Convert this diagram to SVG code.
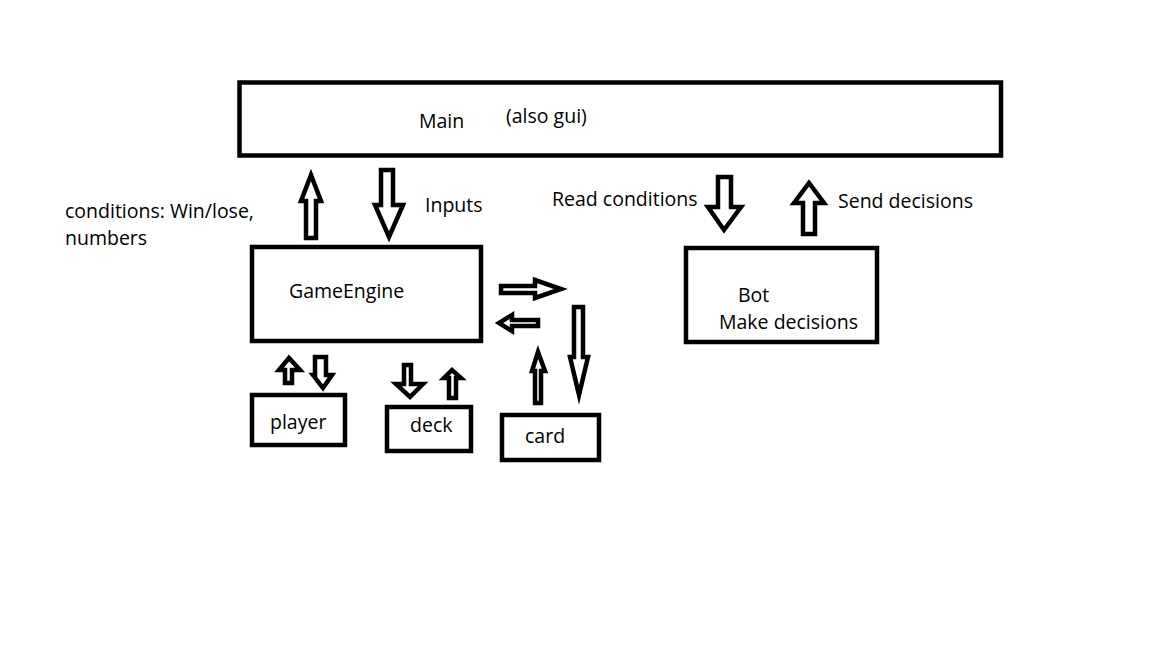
<svg xmlns="http://www.w3.org/2000/svg" width="1152" height="648" viewBox="0 0 1152 648">
<style>
.box{fill:#fff;stroke:#000;stroke-width:4.5}
.arr{fill:#fff;stroke:#000;stroke-width:4.5;stroke-linejoin:miter;stroke-miterlimit:10}
text{font-family:"Open Sans","Noto Sans",sans-serif;font-size:19.5px;fill:#000}
</style>
<rect width="1152" height="648" fill="#fff"/>
<g id="connectors">
<polygon class="arr" points="306,238 306,201 301,201 311,175 321,201 316,201 316,238"/>
<polygon class="arr" points="381,170 381,205 375,205 389,237 403,205 393,205 393,170"/>
<polygon class="arr" points="718,177 718,207 708,207 724,230 741,207 731,207 731,177"/>
<polygon class="arr" points="803,234 803,203 794,203 809,183 824,203 815,203 815,234"/>
<polygon class="arr" points="501,286 535,286 535,280 561,289 535,298 535,293 501,293"/>
<polygon class="arr" points="538,320 512,320 512,315 499,323 512,331 512,326 538,326"/>
<polygon class="arr" points="535,403 535,371 532,371 538,352 545,371 541,371 541,403"/>
<polygon class="arr" points="574,307 574,357 570,357 579,395 588,357 583,357 583,307"/>
<polygon class="arr" points="285,383 285,370 279,370 289,358 300,370 292,370 292,383"/>
<polygon class="arr" points="315,357 315,375 313,375 323,388 332,375 326,375 326,357"/>
<polygon class="arr" points="404,365 404,384 396,384 410,397 423,384 411,384 411,365"/>
<polygon class="arr" points="449,398 449,378 444,378 452,370 461,378 456,378 456,398"/>
</g>
<g id="main">
<rect class="box" x="239.5" y="82.5" width="761.5" height="73"/>
<text x="419" y="128">Main</text>
<text x="506" y="123">(also gui)</text>
</g>
<g id="gameengine">
<rect class="box" x="252" y="247" width="229" height="94"/>
<text x="289" y="298">GameEngine</text>
</g>
<g id="bot">
<rect class="box" x="686" y="248" width="191" height="94"/>
<text x="738" y="302">Bot</text>
<text x="719" y="329">Make decisions</text>
</g>
<g id="player">
<rect class="box" x="252" y="395" width="93" height="50"/>
<text x="270" y="429">player</text>
</g>
<g id="deck">
<rect class="box" x="387" y="407" width="84" height="44"/>
<text x="410" y="432">deck</text>
</g>
<g id="card">
<rect class="box" x="502" y="415" width="97" height="45"/>
<text x="525" y="443">card</text>
</g>
<g id="labels">
<text x="65" y="218">conditions: Win/lose,</text>
<text x="65" y="245">numbers</text>
<text x="425" y="212">Inputs</text>
<text x="552" y="206">Read conditions</text>
<text x="838" y="208">Send decisions</text>
</g>
</svg>
